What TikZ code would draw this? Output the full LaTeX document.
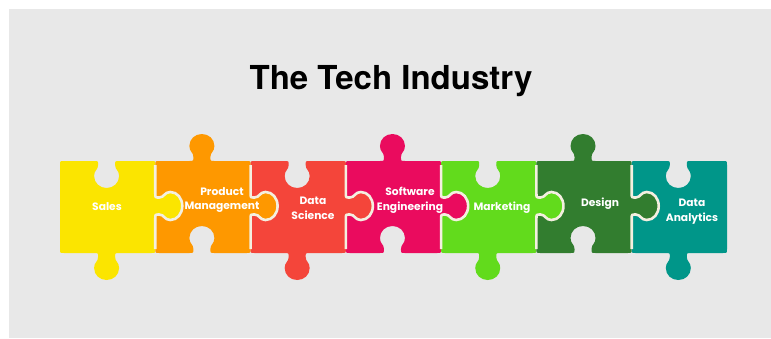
\documentclass[tikz,border=0pt]{standalone}
\usepackage{fontspec}
\newfontfamily\titlefont{TeX Gyre Heros}
\newfontfamily\piecefont{Poppins}
\definecolor{bgc}{HTML}{E8E8E8}
\definecolor{yellowP}{HTML}{FBE500}
\definecolor{orangeP}{HTML}{FE9800}
\definecolor{redP}{HTML}{F4453A}
\definecolor{pinkP}{HTML}{EA0B5E}
\definecolor{limeP}{HTML}{62DB1C}
\definecolor{dgreenP}{HTML}{327D2F}
\definecolor{tealP}{HTML}{009689}
\definecolor{sepc}{HTML}{F4EFE0}
\def\pcw{95.286}
\def\pch{92}
\def\pcx{46.6}
\def\pcy{45}
\def\nk{8.5}
\def\fl{4}
\def\tl{27}
\def\hh{12.5}
\def\hs{14}
\def\rr{4}
\tikzset{
 topedge/.style={insert path={
 -- ({\pcx-\nk-\fl},0)
 .. controls ({\pcx-\nk},0) .. ({\pcx-\nk},{-(#1)*\fl})
 .. controls ({\pcx-\nk},{-(#1)*9}) and ({\pcx-\hh},{-(#1)*9}) .. ({\pcx-\hh},{-(#1)*15})
 .. controls ({\pcx-\hh},{-(#1)*22}) and ({\pcx-0.55*\hh},{-(#1)*\tl}) .. ({\pcx},{-(#1)*\tl})
 .. controls ({\pcx+0.55*\hh},{-(#1)*\tl}) and ({\pcx+\hh},{-(#1)*22}) .. ({\pcx+\hh},{-(#1)*15})
 .. controls ({\pcx+\hh},{-(#1)*9}) and ({\pcx+\nk},{-(#1)*9}) .. ({\pcx+\nk},{-(#1)*\fl})
 .. controls ({\pcx+\nk},0) .. ({\pcx+\nk+\fl},0)}},
 rightedge/.style={insert path={
 -- (\pcw,{\pcy-\nk-\fl})
 .. controls (\pcw,{\pcy-\nk}) .. ({\pcw+(#1)*\fl},{\pcy-\nk})
 .. controls ({\pcw+(#1)*9},{\pcy-\nk}) and ({\pcw+(#1)*9},{\pcy-\hs}) .. ({\pcw+(#1)*15},{\pcy-\hs})
 .. controls ({\pcw+(#1)*22},{\pcy-\hs}) and ({\pcw+(#1)*\tl},{\pcy-0.55*\hs}) .. ({\pcw+(#1)*\tl},\pcy)
 .. controls ({\pcw+(#1)*\tl},{\pcy+0.55*\hs}) and ({\pcw+(#1)*22},{\pcy+\hs}) .. ({\pcw+(#1)*15},{\pcy+\hs})
 .. controls ({\pcw+(#1)*9},{\pcy+\hs}) and ({\pcw+(#1)*9},{\pcy+\nk}) .. ({\pcw+(#1)*\fl},{\pcy+\nk})
 .. controls (\pcw,{\pcy+\nk}) .. (\pcw,{\pcy+\nk+\fl})}},
 bottomedge/.style={insert path={
 -- ({\pcx+\nk+\fl},\pch)
 .. controls ({\pcx+\nk},\pch) .. ({\pcx+\nk},{\pch+(#1)*\fl})
 .. controls ({\pcx+\nk},{\pch+(#1)*9}) and ({\pcx+\hh},{\pch+(#1)*9}) .. ({\pcx+\hh},{\pch+(#1)*15})
 .. controls ({\pcx+\hh},{\pch+(#1)*22}) and ({\pcx+0.55*\hh},{\pch+(#1)*\tl}) .. (\pcx,{\pch+(#1)*\tl})
 .. controls ({\pcx-0.55*\hh},{\pch+(#1)*\tl}) and ({\pcx-\hh},{\pch+(#1)*22}) .. ({\pcx-\hh},{\pch+(#1)*15})
 .. controls ({\pcx-\hh},{\pch+(#1)*9}) and ({\pcx-\nk},{\pch+(#1)*9}) .. ({\pcx-\nk},{\pch+(#1)*\fl})
 .. controls ({\pcx-\nk},\pch) .. ({\pcx-\nk-\fl},\pch)}},
 leftedge/.style={insert path={
 -- (0,{\pcy+\nk+\fl})
 .. controls (0,{\pcy+\nk}) .. ({-(#1)*\fl},{\pcy+\nk})
 .. controls ({-(#1)*9},{\pcy+\nk}) and ({-(#1)*9},{\pcy+\hs}) .. ({-(#1)*15},{\pcy+\hs})
 .. controls ({-(#1)*22},{\pcy+\hs}) and ({-(#1)*\tl},{\pcy+0.55*\hs}) .. ({-(#1)*\tl},\pcy)
 .. controls ({-(#1)*\tl},{\pcy-0.55*\hs}) and ({-(#1)*22},{\pcy-\hs}) .. ({-(#1)*15},{\pcy-\hs})
 .. controls ({-(#1)*9},{\pcy-\hs}) and ({-(#1)*9},{\pcy-\nk}) .. ({-(#1)*\fl},{\pcy-\nk})
 .. controls (0,{\pcy-\nk}) .. (0,{\pcy-\nk-\fl})}},
 sepline/.style={draw=sepc, line width=2.6pt},
 lbl/.style={text=white, font=\piecefont\bfseries\fontsize{10.7}{14.5}\selectfont, align=center, inner sep=0pt},
}
\newcommand{\jigpiece}[6]{%
 \begin{scope}[shift={(#1,161)}]
 \fill[#6] (\rr,0) [topedge=#2] -- ({\pcw-\rr},0) .. controls (\pcw,0) .. (\pcw,\rr)
 [rightedge=#3] -- (\pcw,{\pch-\rr}) .. controls (\pcw,\pch) .. ({\pcw-\rr},\pch)
 [bottomedge=#4] -- (\rr,\pch) .. controls (0,\pch) .. (0,{\pch-\rr})
 [leftedge=#5] -- (0,\rr) .. controls (0,0) .. cycle;
 \end{scope}}
\newcommand{\jigsep}[1]{%
 \begin{scope}[shift={(#1,161)}]
 \draw[sepline] (\pcw,\rr) [rightedge=1] -- (\pcw,{\pch-\rr});
 \end{scope}}
\begin{document}
\begin{tikzpicture}[x=1pt,y=-1pt]
\useasboundingbox (0,0) rectangle (771,338);
\fill[white] (0,0) rectangle (771,338);
\fill[bgc] (9,9) rectangle (771,338);
\node[font=\titlefont\bfseries\fontsize{33}{37}\selectfont, text=black, inner sep=0pt] (title) at (391,81) {The Tech Industry};
\jigpiece{60}{-1}{1}{1}{0}{yellowP}
\jigpiece{155.286}{1}{1}{-1}{-1}{orangeP}
\jigpiece{250.571}{-1}{1}{1}{-1}{redP}
\jigpiece{345.857}{1}{1}{-1}{-1}{pinkP}
\jigpiece{441.143}{-1}{1}{1}{-1}{limeP}
\jigpiece{536.429}{1}{1}{-1}{-1}{dgreenP}
\jigpiece{631.714}{-1}{0}{1}{-1}{tealP}
\jigsep{60}
\jigsep{155.286}
\jigsep{250.571}
\jigsep{345.857}
\jigsep{441.143}
\jigsep{536.429}
\node[lbl] (sales) at (107,207) {Sales};
\node[lbl] (pm) at (222,200) {Product\\Management};
\node[lbl] (ds) at (313,208.5) {Data\\Science};
\node[lbl] (se) at (410,200.5) {Software\\Engineering};
\node[lbl] (mk) at (502,208) {Marketing};
\node[lbl] (de) at (600,204) {Design};
\node[lbl] (da) at (692,211.5) {Data\\Analytics};
\end{tikzpicture}
\end{document}
